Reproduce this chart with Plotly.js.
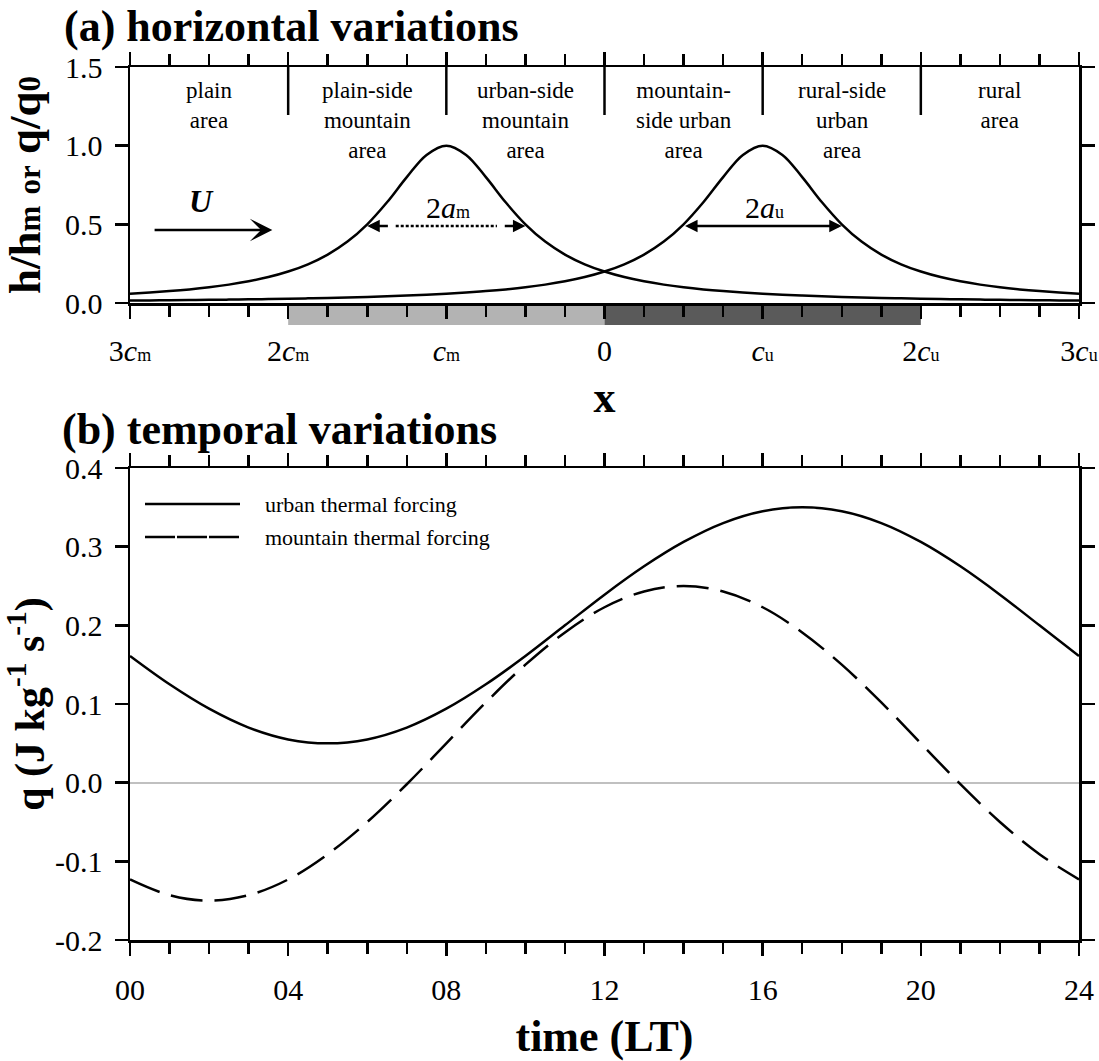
<!DOCTYPE html>
<html>
<head>
<meta charset="utf-8">
<script src="https://cdn.plot.ly/plotly-3.0.1.min.js"></script>
<style>body{margin:0;padding:0;background:#fff}#chart{width:1099px;height:1061px}</style>
</head>
<body>
<div id="chart"></div>
<script>
// ---------- data: panel (a) horizontal variations (x in units of c) ----------
const xPos = [-3,-2.875,-2.75,-2.625,-2.5,-2.375,-2.25,-2.125,-2,-1.875,-1.75,-1.625,-1.5,-1.375,-1.25,-1.125,-1,
  -0.875,-0.75,-0.625,-0.5,-0.375,-0.25,-0.125,0,0.125,0.25,0.375,0.5,0.625,0.75,0.875,1,
  1.125,1.25,1.375,1.5,1.625,1.75,1.875,2,2.125,2.25,2.375,2.5,2.625,2.75,2.875,3];
const hMountain = [0.0588,0.0664,0.0755,0.0865,0.1,0.1168,0.1379,0.1649,0.2,0.246,0.3077,0.3902,0.5,0.64,0.8,0.9412,1,
  0.9412,0.8,0.64,0.5,0.3902,0.3077,0.246,0.2,0.1649,0.1379,0.1168,0.1,0.0865,0.0755,0.0664,0.0588,
  0.0525,0.0471,0.0424,0.0385,0.035,0.032,0.0294,0.027,0.025,0.0231,0.0215,0.02,0.0187,0.0175,0.0164,0.0154];
const hUrban = [0.0154,0.0164,0.0175,0.0187,0.02,0.0215,0.0231,0.025,0.027,0.0294,0.032,0.035,0.0385,0.0424,0.0471,0.0525,0.0588,
  0.0664,0.0755,0.0865,0.1,0.1168,0.1379,0.1649,0.2,0.246,0.3077,0.3902,0.5,0.64,0.8,0.9412,1,
  0.9412,0.8,0.64,0.5,0.3902,0.3077,0.246,0.2,0.1649,0.1379,0.1168,0.1,0.0865,0.0755,0.0664,0.0588];

const xTickVals = [-3,-2,-1,0,1,2,3];
const xTickText = [
  "3<i>c</i><span style='font-size:18px'>m</span>",
  "2<i>c</i><span style='font-size:18px'>m</span>",
  "<i>c</i><span style='font-size:18px'>m</span>",
  "0",
  "<i>c</i><span style='font-size:18px'>u</span>",
  "2<i>c</i><span style='font-size:18px'>u</span>",
  "3<i>c</i><span style='font-size:18px'>u</span>"];
const yTickValsA = [0,0.5,1,1.5];
const yTickTextA = ["0.0","0.5","1.0","1.5"];

const regionBounds = [-2,-1,0,1,2];
const regionCenters = [-2.5,-1.5,-0.5,0.5,1.5,2.5];
const regionLabels = ["plain<br>area","plain-side<br>mountain<br>area","urban-side<br>mountain<br>area",
  "mountain-<br>side urban<br>area","rural-side<br>urban<br>area","rural<br>area"];
const mountainZone = [-2,0];
const urbanZone = [0,2];
const halfWidthM = [-1.5,-0.5];
const halfWidthU = [0.5,1.5];

// ---------- data: panel (b) temporal variations ----------
const hours = [0,1,2,3,4,5,6,7,8,9,10,11,12,13,14,15,16,17,18,19,20,21,22,23,24];
const qUrban = [0.161,0.125,0.094,0.070,0.055,0.050,0.055,0.070,0.094,0.125,0.161,0.200,0.239,0.275,0.306,0.330,0.345,0.350,0.345,0.330,0.306,0.275,0.239,0.200,0.161];
const qMountain = [-0.123,-0.143,-0.150,-0.143,-0.123,-0.091,-0.050,-0.002,0.050,0.102,0.150,0.191,0.223,0.243,0.250,0.243,0.223,0.191,0.150,0.102,0.050,-0.002,-0.050,-0.091,-0.123];
const hourTickVals = [0,4,8,12,16,20,24];
const hourTickText = ["00","04","08","12","16","20","24"];
const yTickValsB = [-0.2,-0.1,0,0.1,0.2,0.3,0.4];
const yTickTextB = ["-0.2","-0.1","0.0","0.1","0.2","0.3","0.4"];
const seriesNames = ["urban thermal forcing","mountain thermal forcing"];

// ---------- styles ----------
const FONT = "Liberation Serif, Times New Roman, serif";
const LW = 2.5;
const DASH = "32px,12px";
const topBottomPx = 303, plotBottomPx = 940, plotTopPx = 67, H = 1061;
const plotH = plotBottomPx - plotTopPx;
const pY = px => (plotBottomPx - px) / plotH;
const pX = px => (px - 130) / 949;

const traces = [
  {x: xPos, y: hMountain, xaxis: 'x', yaxis: 'y', mode: 'lines', line: {color: '#000', width: LW, shape: 'spline'}, showlegend: false, hoverinfo: 'skip'},
  {x: xPos, y: hUrban, xaxis: 'x', yaxis: 'y', mode: 'lines', line: {color: '#000', width: LW, shape: 'spline'}, showlegend: false, hoverinfo: 'skip'},
  {x: hours, y: qUrban, xaxis: 'x2', yaxis: 'y2', mode: 'lines', name: seriesNames[0], line: {color: '#000', width: LW, shape: 'spline'}, showlegend: false},
  {x: hours, y: qMountain, xaxis: 'x2', yaxis: 'y2', mode: 'lines', name: seriesNames[1], line: {color: '#000', width: LW, shape: 'spline', dash: DASH}, showlegend: false}
];

const axisCommon = {
  showline: true, linecolor: '#000', linewidth: LW, mirror: 'allticks',
  ticks: 'outside', ticklen: 13, tickwidth: LW, tickcolor: '#000',
  showgrid: false, zeroline: false, tickfont: {family: FONT, size: 30, color: '#000'}
};

const shapes = [];
regionBounds.forEach(b => shapes.push({type: 'line', xref: 'x', yref: 'y', x0: b, x1: b, y0: 1.195, y1: 1.5, line: {color: '#000', width: LW}}));
shapes.push({type: 'rect', xref: 'x', yref: 'paper', x0: mountainZone[0], x1: mountainZone[1], y0: pY(325), y1: pY(topBottomPx), fillcolor: '#b3b3b3', line: {width: 0}, layer: 'below'});
shapes.push({type: 'rect', xref: 'x', yref: 'paper', x0: urbanZone[0], x1: urbanZone[1], y0: pY(325), y1: pY(topBottomPx), fillcolor: '#5a5a5a', line: {width: 0}, layer: 'below'});
// dotted middle part of the 2a_m marker
shapes.push({type: 'line', xref: 'x', yref: 'y', x0: halfWidthM[0] + 0.18, x1: halfWidthM[1] - 0.18, y0: 0.49, y1: 0.49, line: {color: '#000', width: LW, dash: '3px,2px'}});
// manual legend samples
shapes.push({type: 'line', xref: 'paper', yref: 'paper', x0: pX(145), x1: pX(240), y0: pY(504), y1: pY(504), line: {color: '#000', width: LW}});
shapes.push({type: 'line', xref: 'paper', yref: 'paper', x0: pX(145), x1: pX(240), y0: pY(537), y1: pY(537), line: {color: '#000', width: LW, dash: '30px,2px'}});

const annotations = [
  {xref: 'paper', yref: 'paper', x: pX(62), y: pY(27), xanchor: 'left', yanchor: 'middle', showarrow: false,
   text: '<b>(a) horizontal variations</b>', font: {family: FONT, size: 44, color: '#000'}},
  {xref: 'paper', yref: 'paper', x: pX(60), y: pY(430), xanchor: 'left', yanchor: 'middle', showarrow: false,
   text: '<b>(b) temporal variations</b>', font: {family: FONT, size: 44, color: '#000'}},
  {xref: 'x', yref: 'y', x: -2.55, y: 0.648, showarrow: false, text: '<b><i>U</i></b>', font: {family: FONT, size: 32, color: '#000'}},
  {xref: 'x', yref: 'y', axref: 'x', ayref: 'y', x: -2.1, y: 0.464, ax: -2.854, ay: 0.464, text: '', showarrow: true,
   arrowhead: 3, arrowsize: 1.5, arrowwidth: LW, arrowcolor: '#000'},
  {xref: 'x', yref: 'y', x: -0.99, y: 0.604, showarrow: false, text: "2<i>a</i><span style='font-size:18px'>m</span>", font: {family: FONT, size: 30, color: '#000'}},
  {xref: 'x', yref: 'y', x: 1.01, y: 0.604, showarrow: false, text: "2<i>a</i><span style='font-size:18px'>u</span>", font: {family: FONT, size: 30, color: '#000'}},
  {xref: 'x', yref: 'y', axref: 'x', ayref: 'y', x: halfWidthM[0], y: 0.49, ax: halfWidthM[0] + 0.14, ay: 0.49, text: '', showarrow: true,
   arrowhead: 2, arrowsize: 1, arrowwidth: LW, arrowcolor: '#000'},
  {xref: 'x', yref: 'y', axref: 'x', ayref: 'y', x: halfWidthM[1], y: 0.49, ax: halfWidthM[1] - 0.14, ay: 0.49, text: '', showarrow: true,
   arrowhead: 2, arrowsize: 1, arrowwidth: LW, arrowcolor: '#000'},
  {xref: 'x', yref: 'y', axref: 'x', ayref: 'y', x: halfWidthU[1], y: 0.49, ax: halfWidthU[0], ay: 0.49, text: '', showarrow: true,
   arrowhead: 2, arrowside: 'end+start', arrowsize: 1, arrowwidth: LW, arrowcolor: '#000'},
  {xref: 'paper', yref: 'paper', x: pX(263), y: pY(504), xanchor: 'left', yanchor: 'middle', showarrow: false,
   text: seriesNames[0], font: {family: FONT, size: 22, color: '#000'}},
  {xref: 'paper', yref: 'paper', x: pX(263), y: pY(537), xanchor: 'left', yanchor: 'middle', showarrow: false,
   text: seriesNames[1], font: {family: FONT, size: 22, color: '#000'}}
];
regionCenters.forEach((c, i) => annotations.push({xref: 'x', yref: 'y', x: c, y: 1.44, xanchor: 'center', yanchor: 'top', showarrow: false,
  text: regionLabels[i], align: 'center', font: {family: FONT, size: 23, color: '#000'}}));

const layout = {
  width: 1099, height: 1061,
  margin: {l: 130, r: 20, t: plotTopPx, b: H - plotBottomPx, pad: 0},
  paper_bgcolor: '#fff', plot_bgcolor: 'rgba(0,0,0,0)',
  font: {family: FONT, color: '#000'},
  showlegend: false,
  xaxis: Object.assign({}, axisCommon, {
    domain: [0, 1], anchor: 'y', range: [-3, 3], tickvals: xTickVals, ticktext: xTickText, ticklabelstandoff: 6,
    minor: {dtick: 0.25, tick0: 0, ticks: 'outside', ticklen: 11, tickwidth: LW, tickcolor: '#000'},
    title: {text: '<b>x</b>', font: {family: FONT, size: 44, color: '#000'}, standoff: 16}
  }),
  yaxis: Object.assign({}, axisCommon, {
    domain: [pY(topBottomPx), 1], anchor: 'x', range: [0, 1.5], tickvals: yTickValsA, ticktext: yTickTextA, ticklabelstandoff: 6,
    title: {text: "<b>h/h<span style='font-size:31px'>m</span> <span style='font-size:31px'>or</span> q/q<span style='font-size:31px'>0</span></b>",
      font: {family: FONT, size: 45, color: '#000'}, standoff: 14}
  }),
  xaxis2: Object.assign({}, axisCommon, {
    domain: [0, 1], anchor: 'y2', range: [0, 24], tickvals: hourTickVals, ticktext: hourTickText, ticklabelstandoff: 8,
    minor: {dtick: 1, tick0: 0, ticks: 'outside', ticklen: 11, tickwidth: LW, tickcolor: '#000'},
    title: {text: '<b>time (LT)</b>', font: {family: FONT, size: 44, color: '#000'}, standoff: 18}
  }),
  yaxis2: Object.assign({}, axisCommon, {
    domain: [0, pY(468)], anchor: 'x2', range: [-0.2, 0.4], tickvals: yTickValsB, ticktext: yTickTextB, ticklabelstandoff: 6,
    zeroline: true, zerolinecolor: '#c0c0c0', zerolinewidth: 2,
    title: {text: '<b>q (J kg<sup>-1</sup> s<sup>-1</sup>)</b>', font: {family: FONT, size: 42, color: '#000'}, standoff: 14}
  }),
  shapes: shapes,
  annotations: annotations
};

Plotly.newPlot('chart', traces, layout, {staticPlot: true, displayModeBar: false});
</script>
</body>
</html>
